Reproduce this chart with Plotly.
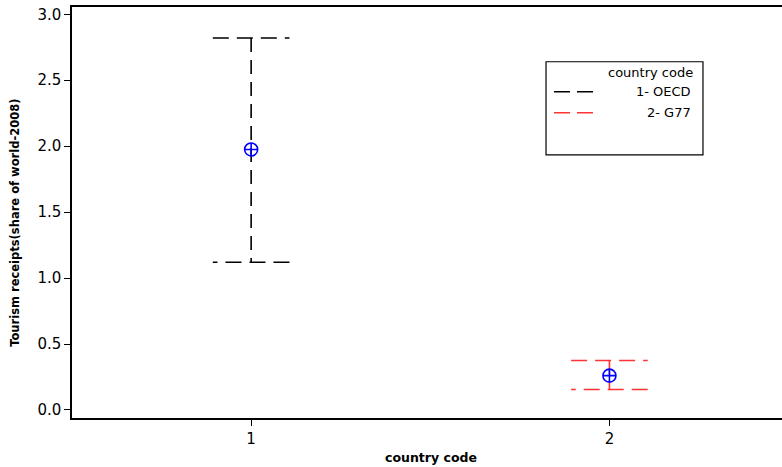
import plotly.graph_objects as go

# ---- data ----
codes = [1, 2]
group_labels = ["1- OECD", "2- G77"]
means = [1.975, 0.26]
upper = [2.82, 0.375]
lower = [1.12, 0.155]
y_ticks = [0.0, 0.5, 1.0, 1.5, 2.0, 2.5, 3.0]
x_ticks = [1, 2]

colors = ["#000000", "#ff3333"]
cap_half = 0.107
FONT = "Verdana, DejaVu Sans, sans-serif"

fig = go.Figure()
for c, m, hi, lo, col, lab in zip(codes, means, upper, lower, colors, group_labels):
    # caps
    fig.add_trace(go.Scatter(
        x=[c - cap_half, c + cap_half, None, c + cap_half, c - cap_half],
        y=[hi, hi, None, lo, lo],
        mode="lines", line=dict(color=col, width=1.6, dash="16px,8px"),
        showlegend=False, hoverinfo="skip"))
    # vertical stem
    fig.add_trace(go.Scatter(
        x=[c, c], y=[hi, lo], mode="lines",
        line=dict(color=col, width=1.6, dash="14px,8px"),
        showlegend=False, hoverinfo="skip"))
    # mean marker
    fig.add_trace(go.Scatter(
        x=[c], y=[m], mode="markers",
        marker=dict(symbol="circle-cross-open", size=13, color="#0000ff",
                    line=dict(color="#0000ff", width=1.6)),
        showlegend=False, name=lab))

# manual legend (box, title, samples, labels)
lx0, lx1, ly0, ly1 = 0.6602, 0.8788, 0.6404, 0.8668
shapes = [dict(type="rect", xref="paper", yref="paper", x0=lx0, x1=lx1, y0=ly0, y1=ly1,
               line=dict(color="black", width=1.2), fillcolor="white", layer="above")]
annotations = [dict(xref="paper", yref="paper", x=0.8677, y=0.840, text="country code",
                    showarrow=False, xanchor="right", yanchor="middle",
                    font=dict(family=FONT, size=13, color="black"))]
entry_y = [0.7938, 0.7426]
for lab, col, ey in zip(group_labels, colors, entry_y):
    shapes.append(dict(type="line", xref="paper", yref="paper", x0=0.6713, x1=0.7256,
                       y0=ey, y1=ey, line=dict(color=col, width=1.6, dash="16px,7px"),
                       layer="above"))
    annotations.append(dict(xref="paper", yref="paper", x=0.8649, y=ey, text=lab,
                            showarrow=False, xanchor="right", yanchor="middle",
                            font=dict(family=FONT, size=13, color="black")))

# y-axis title
annotations.append(dict(xref="paper", yref="paper", x=-0.0794, y=0.4748,
                        text="<b>Tourism receipts(share of world-2008)</b>",
                        textangle=-90, showarrow=False, xanchor="center", yanchor="middle",
                        font=dict(family=FONT, size=11.5, color="black")))

fig.update_layout(
    width=790, height=467,
    margin=dict(l=72, r=0, t=7, b=49, autoexpand=False),
    paper_bgcolor="white", plot_bgcolor="white",
    font=dict(family=FONT, size=15, color="black"),
    shapes=shapes, annotations=annotations,
    showlegend=False,
)
fig.update_xaxes(
    range=[0.5, 2.504], tickvals=x_ticks, ticktext=[str(v) for v in x_ticks],
    showgrid=False, zeroline=False, showline=True, linecolor="black", linewidth=1.5,
    mirror=True, ticks="outside", ticklen=6, tickwidth=1.2, tickcolor="black",
    title=dict(text="<b>country code</b>", font=dict(family=FONT, size=12.5), standoff=6),
    automargin=False)
fig.update_yaxes(
    range=[-0.061, 3.055], tickvals=y_ticks, tickformat=".1f",
    showgrid=False, zeroline=False, showline=True, linecolor="black", linewidth=1.5,
    mirror=False, ticks="outside", ticklen=6, tickwidth=1.2, tickcolor="black",
    automargin=False)

fig.write_html("out.html", config={"displayModeBar": False},
               post_script="document.body.style.margin='0';document.body.style.overflow='hidden';")
